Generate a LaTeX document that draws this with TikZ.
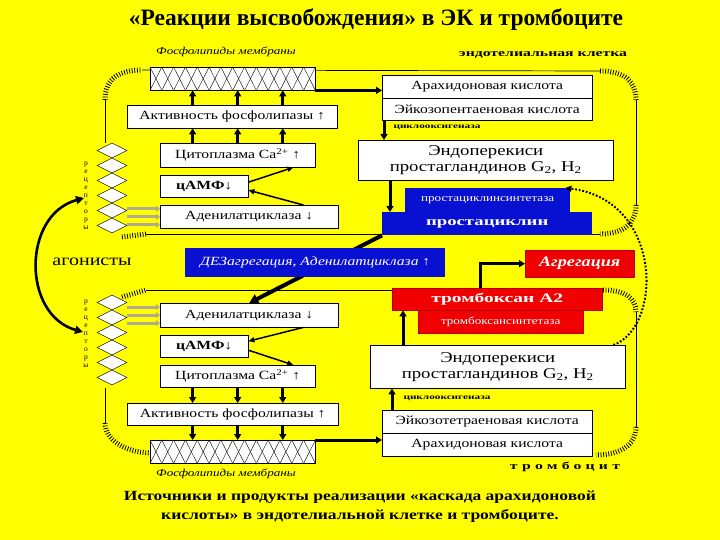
\documentclass[tikz,border=0pt]{standalone}
\usepackage{fontspec}
\setmainfont{Liberation Serif}
\newfontfamily\widefont[FakeStretch=1.25]{Liberation Serif}
\newfontfamily\heavyfont[FakeStretch=1.5]{Liberation Serif}
\newfontfamily\spacedfont[FakeStretch=1.5,LetterSpace=40]{Liberation Serif}
\usetikzlibrary{arrows.meta,positioning,shapes.geometric,calc}
\definecolor{bgyellow}{RGB}{255,255,0}
\definecolor{prostblue}{RGB}{8,16,210}
\definecolor{txred}{RGB}{240,0,0}
\definecolor{receptorgray}{RGB}{175,170,145}

\begin{document}
\begin{tikzpicture}[x=1pt, y=-1pt,
  box/.style={draw, fill=white, anchor=north west, inner sep=0pt, align=center,
    font=\widefont\fontsize{12.5}{14}\selectfont},
  bluebox/.style={fill=prostblue, text=white, anchor=north west, inner sep=0pt,
    align=center},
  redbox/.style={fill=txred, draw=txred!75!black, text=white, anchor=north west,
    inner sep=0pt, align=center},
  membrane/.style={draw, fill=white, anchor=north west, minimum width=165pt,
    minimum height=23pt, inner sep=0pt},
  receptor/.style={draw, fill=white, diamond, minimum width=30pt,
    minimum height=15pt, inner sep=0pt},
  fat/.style={-{Triangle[length=6pt,width=7pt]}, line width=3pt},
  thinarr/.style={-{Triangle[length=6pt,width=5pt]}, line width=1.5pt},
  grayarr/.style={-{Triangle[length=4pt,width=6pt]}, line width=2.6pt,
    draw=receptorgray},
  cellline/.style={line width=.7pt},
  hatch/.style={line width=5pt, dash pattern=on .8pt off 1.8pt},
  small/.style={font=\heavyfont\bfseries\fontsize{7.5}{9}\selectfont},
  note/.style={font=\widefont\itshape\fontsize{10.5}{12}\selectfont},
  letters/.style={font=\fontsize{7.5}{8}\selectfont, align=center, inner sep=0pt}
]
\fill[bgyellow] (0,0) rectangle (720,540);
\useasboundingbox (0,0) rectangle (720,540);

\node[font=\bfseries\fontsize{23.5}{26}\selectfont] (title) at (376,20)
  {«Реакции высвобождения» в ЭК и тромбоците};

% cell outlines
\draw[cellline] (105,143) -- (105,100);
\draw[hatch] (105,100) .. controls (105,78) and (120,70) .. (142,70);
\draw[cellline] (142,70) -- (600,71);
\draw[hatch] (600,71) .. controls (625,71) and (636,82) .. (636,100);
\draw[cellline] (636,100) -- (636,205);
\draw[hatch] (636,205) .. controls (636,222) and (625,234) .. (600,234);
\draw[cellline] (600,234) -- (146,234);
\draw[hatch] (146,234) -- (122,237);
\draw[hatch] (122,297) -- (146,290);
\draw[cellline] (146,290) -- (603,290);
\draw[hatch] (603,290) .. controls (625,290) and (636,298) .. (636,312);
\draw[cellline] (636,312) -- (636,427);
\draw[hatch] (636,427) .. controls (636,445) and (620,455) .. (596,455);
\draw[cellline] (105,388) -- (105,423);
\draw[hatch] (105,423) .. controls (105,440) and (125,452) .. (150,453);

% receptors
\foreach \i in {1,...,6} {
  \node[receptor] (rt\i) at (112,{150.5+15*(\i-1)}) {};
  \node[receptor] (rb\i) at (112,{302.5+15*(\i-1)}) {};
}
\node[letters] (lettT) at (86,196) {р\\е\\ц\\е\\п\\т\\о\\р\\ы};
\node[letters] (lettB) at (86,334) {р\\е\\ц\\е\\п\\т\\о\\р\\ы};

% endothelial cell
\node[membrane] (memT) at (150,67) {};
\node[note] (lipT) at (226,52) {Фосфолипиды мембраны};
\node[box, minimum width=210pt, minimum height=23pt] (phosT) at (127,105)
  {Активность фосфолипазы ↑};
\node[box, minimum width=155pt, minimum height=24pt] (caT) at (160,143)
  {Цитоплазма Ca\textsuperscript{2+} ↑};
\node[box, minimum width=88pt, minimum height=22pt] (campT) at (160,175)
  {\bfseries цАМФ↓};
\node[box, minimum width=178pt, minimum height=23pt] (adcT) at (160,205)
  {Аденилатциклаза ↓};
\node[box, minimum width=210pt, minimum height=23pt] (araT) at (382,75)
  {Арахидоновая кислота};
\node[box, minimum width=210pt, minimum height=22pt, below=0pt of araT] (eicT)
  {Эйкозопентаеновая кислота};
\node[small, anchor=west] (coxT) at (390,127) {циклооксигеназа};
\node[box, minimum width=255pt, minimum height=40pt,
  font=\widefont\fontsize{15}{16}\selectfont] (endoT) at (358,140)
  {Эндоперекиси\\простагландинов G\textsubscript{2}, H\textsubscript{2}};
\node[bluebox, minimum width=165pt, minimum height=24pt,
  font=\widefont\fontsize{10.5}{12}\selectfont] (psynT) at (405,188)
  {простациклинсинтетаза};
\node[bluebox, minimum width=210pt, minimum height=23pt,
  font=\heavyfont\bfseries\fontsize{12.5}{14}\selectfont] (prostT) at (382,212)
  {простациклин};
\node[font=\heavyfont\bfseries\fontsize{10.5}{12}\selectfont] (ecell) at (543,55)
  {эндотелиальная клетка};

% thrombocyte
\node[membrane] (memB) at (150,440) {};
\node[note] (lipB) at (226,474) {Фосфолипиды мембраны};
\node[box, minimum width=178pt, minimum height=24pt] (adcB) at (160,303)
  {Аденилатциклаза ↓};
\node[box, minimum width=88pt, minimum height=22pt] (campB) at (160,335)
  {\bfseries цАМФ↓};
\node[box, minimum width=155pt, minimum height=22pt] (caB) at (160,365)
  {Цитоплазма Ca\textsuperscript{2+} ↑};
\node[box, minimum width=211pt, minimum height=22pt] (phosB) at (127,403)
  {Активность фосфолипазы ↑};
\node[box, minimum width=210pt, minimum height=23pt] (eicB) at (382,410)
  {Эйкозотетраеновая кислота};
\node[box, minimum width=210pt, minimum height=23pt, below=0pt of eicB] (araB)
  {Арахидоновая кислота};
\node[small, anchor=west] (coxB) at (400,398) {циклооксигеназа};
\node[box, minimum width=255pt, minimum height=43pt,
  font=\widefont\fontsize{15}{16}\selectfont] (endoB) at (370,345)
  {Эндоперекиси\\простагландинов G\textsubscript{2}, H\textsubscript{2}};
\node[redbox, minimum width=165pt, minimum height=23pt,
  font=\widefont\fontsize{10.5}{12}\selectfont] (txsyn) at (418,310)
  {тромбоксансинтетаза};
\node[redbox, minimum width=210pt, minimum height=22pt,
  font=\heavyfont\bfseries\fontsize{13}{15}\selectfont] (txB) at (392,288)
  {тромбоксан А2};
\node[redbox, minimum width=109pt, minimum height=27pt,
  font=\widefont\bfseries\itshape\fontsize{14.5}{16}\selectfont] (aggr) at (525,250)
  {Агрегация};
\node[font=\spacedfont\bfseries\fontsize{10.5}{12}\selectfont] (plt) at (565,467)
  {тромбоцит};

% membrane pattern
\foreach \m in {memT,memB}
  \foreach \i in {0,...,13} {
    \draw ($(\m.north west)!{\i/14}!(\m.north east)$) --
      ($(\m.south west)!{(\i+1)/14}!(\m.south east)$);
    \draw ($(\m.south west)!{\i/14}!(\m.south east)$) --
      ($(\m.north west)!{(\i+1)/14}!(\m.north east)$);
  }

% arrows
\foreach \f [count=\i] in {.21,.5,.79} {
  \coordinate (cT\i) at ($(caT.north west)!\f!(caT.north east)$);
  \draw[fat] (cT\i) -- (cT\i |- phosT.south);
  \draw[fat] (cT\i |- phosT.north) -- (cT\i |- memT.south);
  \coordinate (cB\i) at ($(caB.south west)!\f!(caB.south east)$);
  \draw[fat] (cB\i) -- (cB\i |- phosB.north);
  \draw[fat] (cB\i |- phosB.south) -- (cB\i |- memB.north);
}
\foreach \d in {-8,0,8} {
  \draw[grayarr] ([yshift=\d pt]adcT.west) ++(-33,0) -- ([yshift=\d pt]adcT.west);
  \draw[grayarr] ([yshift=\d pt]adcB.west) ++(-33,0) -- ([yshift=\d pt]adcB.west);
}
\draw[thinarr] ([xshift=-35pt]adcT.north east) -- ([yshift=-4pt]campT.east);
\draw[thinarr] ([yshift=4pt]campT.east) -- ([xshift=-22pt]caT.south east);
\draw[thinarr] ([xshift=-35pt]adcB.south east) -- ([yshift=5pt]campB.east);
\draw[thinarr] ([yshift=-4pt]campB.east) -- ([xshift=-22pt]caB.north east);

\draw[fat] (memT.south east) -- (memT.south east -| araT.west);
\draw[fat] (memB.north east) -- (memB.north east -| araB.west);
\coordinate (aT) at ([xshift=2pt]eicT.south west);
\draw[fat] (aT) -- (aT |- endoT.north);
\coordinate (eT) at ([xshift=32pt]endoT.south west);
\draw[fat] (eT) -- (eT |- prostT.north);
\coordinate (aB) at ([xshift=10pt]eicB.north west);
\draw[fat] (aB) -- (aB |- endoB.south);
\coordinate (eB) at ([xshift=33pt]endoB.north west);
\draw[fat] (eB) -- (eB |- txB.south);
\coordinate (tx) at ([xshift=-17pt]txB.north);
\draw[fat] (tx) |- (aggr.west);

\draw[line width=4pt, -{Triangle[length=9pt,width=10pt]}]
  (prostT.south west) -- (adcB.north);
\node[bluebox, minimum width=260pt, minimum height=29pt,
  font=\widefont\itshape\fontsize{12.5}{14}\selectfont] (dez) at (185,248)
  {ДЕЗагрегация, Аденилатциклаза ↑};

\coordinate (dotS) at ([xshift=-12pt]endoB.north east);
\coordinate (dotE) at ([xshift=-5pt]psynT.north east);
\draw[line width=2pt, dash pattern=on 1.8pt off 1.8pt,
  -{Triangle[length=6pt,width=6pt]}]
  (dotS) .. controls (663,327) and (663,200) .. (dotE);

% agonists
\node[font=\widefont\fontsize{16}{18}\selectfont] (agon) at (92,262) {агонисты};
\coordinate (agT) at (84,198);
\coordinate (agB) at (83,332);
\draw[line width=2.6pt, {Triangle[length=8pt,width=8pt]}-{Triangle[length=8pt,width=8pt]}]
  (agT) .. controls (22,215) and (22,315) .. (agB);

\node[font=\widefont\bfseries\fontsize{14}{19}\selectfont, align=center] (caption)
  at (360,507) {Источники и продукты реализации «каскада арахидоновой\\
  кислоты» в эндотелиальной клетке и тромбоците.};
\end{tikzpicture}
\end{document}
